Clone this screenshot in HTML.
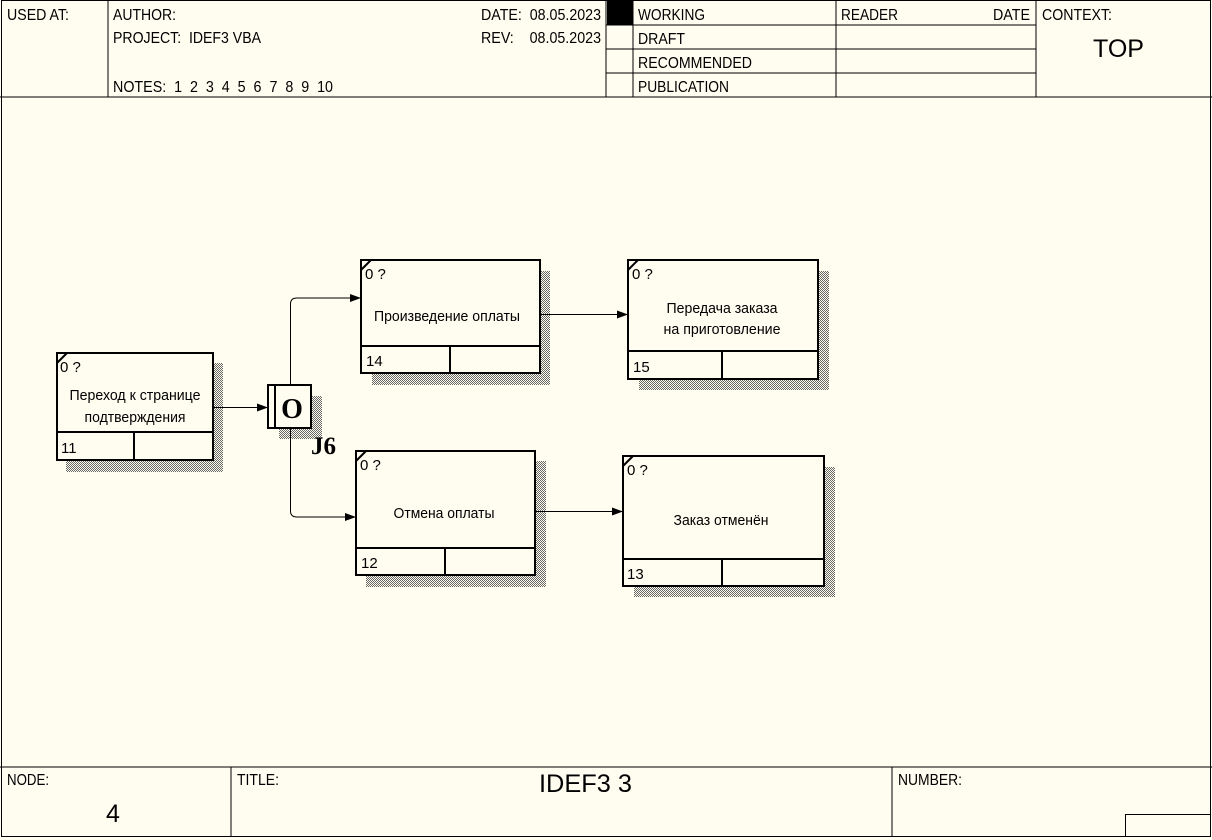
<!DOCTYPE html>
<html><head><meta charset="utf-8"><style>
html,body{margin:0;padding:0;background:#fffcf0;}
svg{display:block;}
text{font-family:"Liberation Sans",sans-serif;fill:#000;}
</style></head><body>
<svg width="1212" height="840" viewBox="0 0 1212 840" xmlns="http://www.w3.org/2000/svg">
<defs>
<pattern id="h" width="2" height="2" patternUnits="userSpaceOnUse">
<rect width="2" height="2" fill="#fffcf0"/><rect width="1" height="1" fill="#666"/><rect x="1" y="1" width="1" height="1" fill="#666"/>
</pattern>
<marker id="a" markerWidth="12" markerHeight="10" refX="11" refY="5" orient="auto" markerUnits="userSpaceOnUse">
<path d="M0,1 L11,5 L0,9 Z" fill="#000"/></marker>
</defs>
<rect x="0" y="0" width="1212" height="840" fill="#fffcf0"/>
<g stroke="#000" stroke-width="1" fill="none">
<rect x="1.5" y="0.5" width="1209" height="836"/>
<line x1="0" y1="97" x2="1212" y2="97"/>
<line x1="108" y1="0" x2="108" y2="97"/>
<line x1="606" y1="0" x2="606" y2="97"/>
<line x1="633" y1="0" x2="633" y2="97"/>
<line x1="836" y1="0" x2="836" y2="97"/>
<line x1="1036" y1="0" x2="1036" y2="97"/>
<line x1="606" y1="25" x2="1036" y2="25"/>
<line x1="606" y1="49" x2="1036" y2="49"/>
<line x1="606" y1="73" x2="1036" y2="73"/>
<line x1="0" y1="767" x2="1212" y2="767"/>
<line x1="231" y1="767" x2="231" y2="837"/>
<line x1="892" y1="767" x2="892" y2="837"/>
<rect x="1125.5" y="814.5" width="85" height="22"/>
</g>
<rect x="607" y="1" width="26" height="24" fill="#000"/>
<g font-size="16">
<text x="7" y="20" textLength="62" lengthAdjust="spacingAndGlyphs">USED AT:</text>
<text x="113" y="20" textLength="63" lengthAdjust="spacingAndGlyphs">AUTHOR:</text>
<text x="113" y="43" textLength="148" lengthAdjust="spacingAndGlyphs" xml:space="preserve">PROJECT:  IDEF3 VBA</text>
<text x="113" y="92" textLength="220" lengthAdjust="spacingAndGlyphs" xml:space="preserve">NOTES:  1  2  3  4  5  6  7  8  9  10</text>
<text x="481" y="20" textLength="120" lengthAdjust="spacingAndGlyphs" xml:space="preserve">DATE:  08.05.2023</text>
<text x="481" y="43" textLength="120" lengthAdjust="spacingAndGlyphs" xml:space="preserve">REV:    08.05.2023</text>
<text x="638" y="20" textLength="67" lengthAdjust="spacingAndGlyphs">WORKING</text>
<text x="638" y="44" textLength="47" lengthAdjust="spacingAndGlyphs">DRAFT</text>
<text x="638" y="68" textLength="114" lengthAdjust="spacingAndGlyphs">RECOMMENDED</text>
<text x="638" y="92" textLength="91" lengthAdjust="spacingAndGlyphs">PUBLICATION</text>
<text x="841" y="20" textLength="57" lengthAdjust="spacingAndGlyphs">READER</text>
<text x="993" y="20" textLength="37" lengthAdjust="spacingAndGlyphs">DATE</text>
<text x="1042" y="20" textLength="70" lengthAdjust="spacingAndGlyphs">CONTEXT:</text>
<text x="1093" y="57" font-size="25" textLength="51" lengthAdjust="spacingAndGlyphs">TOP</text>
<text x="7" y="785" textLength="42" lengthAdjust="spacingAndGlyphs">NODE:</text>
<text x="106" y="822" font-size="25">4</text>
<text x="237" y="785" textLength="42" lengthAdjust="spacingAndGlyphs">TITLE:</text>
<text x="539" y="792" font-size="25" textLength="93" lengthAdjust="spacingAndGlyphs">IDEF3 3</text>
<text x="898" y="785" textLength="64" lengthAdjust="spacingAndGlyphs">NUMBER:</text>
</g>
<g fill="url(#h)">
<rect x="213" y="363" width="10" height="109"/><rect x="66" y="460" width="157" height="12"/>
<rect x="540" y="271" width="10" height="114"/><rect x="372" y="373" width="178" height="12"/>
<rect x="818" y="271" width="11" height="119"/><rect x="639" y="379" width="190" height="11"/>
<rect x="535" y="461" width="11" height="126"/><rect x="366" y="575" width="180" height="12"/>
<rect x="824" y="467" width="11" height="130"/><rect x="634" y="586" width="201" height="11"/>
<rect x="311" y="396" width="11" height="43"/><rect x="279" y="428" width="43" height="11"/>
</g>
<g stroke="#000" stroke-width="2" fill="#fffcf0">
<rect x="57" y="353" width="156" height="107"/>
<rect x="361" y="260" width="179" height="113"/>
<rect x="628" y="260" width="190" height="119"/>
<rect x="356" y="451" width="179" height="124"/>
<rect x="623" y="456" width="201" height="130"/>
<rect x="268" y="385" width="43" height="43"/>
</g>
<g stroke="#000" stroke-width="2">
<line x1="57" y1="432" x2="213" y2="432"/><line x1="134" y1="432" x2="134" y2="460"/>
<line x1="361" y1="346" x2="540" y2="346"/><line x1="450" y1="346" x2="450" y2="373"/>
<line x1="628" y1="351" x2="818" y2="351"/><line x1="722" y1="351" x2="722" y2="379"/>
<line x1="356" y1="548" x2="535" y2="548"/><line x1="445" y1="548" x2="445" y2="575"/>
<line x1="623" y1="559" x2="824" y2="559"/><line x1="722" y1="559" x2="722" y2="586"/>
<line x1="275" y1="385" x2="275" y2="428"/>
<line x1="57" y1="363" x2="67" y2="353"/><line x1="361" y1="270" x2="371" y2="260"/>
<line x1="628" y1="270" x2="638" y2="260"/><line x1="356" y1="461" x2="366" y2="451"/>
<line x1="623" y1="466" x2="633" y2="456"/>
</g>
<g stroke="#000" stroke-width="1" fill="none">
<line x1="213" y1="407.5" x2="268" y2="407.5" marker-end="url(#a)"/>
<path d="M290.5,385 V304 Q290.5,298 297,298 H361" marker-end="url(#a)"/>
<path d="M290.5,428 V511 Q290.5,517 297,517 H356" marker-end="url(#a)"/>
<line x1="540" y1="314.5" x2="628" y2="314.5" marker-end="url(#a)"/>
<line x1="535" y1="511.5" x2="623" y2="511.5" marker-end="url(#a)"/>
</g>
<text x="292" y="418" font-weight="bold" font-size="28" text-anchor="middle" style="font-family:'Liberation Serif',serif">O</text>
<text x="311" y="454" font-weight="bold" font-size="25" style="font-family:'Liberation Serif',serif">J6</text>
<g font-size="15">
<text x="60" y="372">0 ?</text>
<text x="135" y="400" text-anchor="middle" textLength="131" lengthAdjust="spacingAndGlyphs">Переход к странице</text>
<text x="135" y="422" text-anchor="middle" textLength="101" lengthAdjust="spacingAndGlyphs">подтверждения</text>
<text x="61" y="453">11</text>
<text x="365" y="279">0 ?</text>
<text x="447" y="321" text-anchor="middle" textLength="146" lengthAdjust="spacingAndGlyphs">Произведение оплаты</text>
<text x="366" y="366">14</text>
<text x="632" y="279">0 ?</text>
<text x="722" y="313" text-anchor="middle" textLength="111" lengthAdjust="spacingAndGlyphs">Передача заказа</text>
<text x="722" y="334" text-anchor="middle" textLength="117" lengthAdjust="spacingAndGlyphs">на приготовление</text>
<text x="633" y="372">15</text>
<text x="360" y="470">0 ?</text>
<text x="444" y="518" text-anchor="middle" textLength="101" lengthAdjust="spacingAndGlyphs">Отмена оплаты</text>
<text x="361" y="568">12</text>
<text x="627" y="475">0 ?</text>
<text x="721" y="525" text-anchor="middle" textLength="95" lengthAdjust="spacingAndGlyphs">Заказ отменён</text>
<text x="627" y="579">13</text>
</g>
</svg>
</body></html>
